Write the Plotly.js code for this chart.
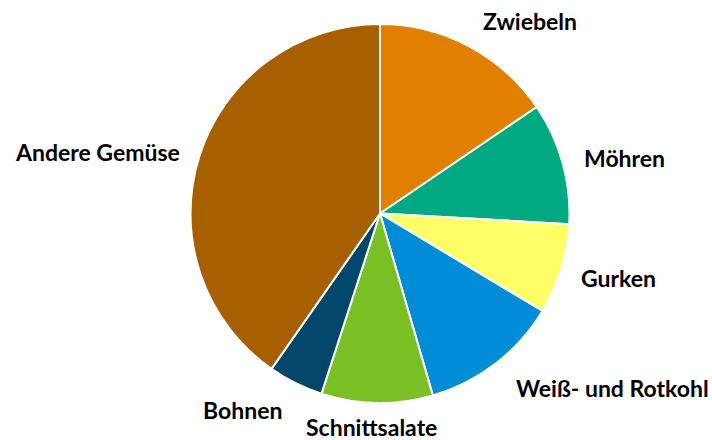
<!DOCTYPE html>
<html>
<head>
<meta charset="utf-8">
<script src="https://cdn.plot.ly/plotly-3.0.1.min.js"></script>
<style>
  html, body { margin: 0; padding: 0; background: #fff; }
  #chart { width: 712px; height: 440px; }
</style>
</head>
<body>
<div id="chart"></div>
<script>
// Anteile (%), im Uhrzeigersinn ab 12 Uhr
const categories = ['Zwiebeln', 'Möhren', 'Gurken', 'Weiß- und Rotkohl', 'Schnittsalate', 'Bohnen', 'Andere Gemüse']
const shares = [15.5, 10.4, 7.7, 11.9, 9.5, 4.7, 40.3]
const colors = ['#E07F00', '#00A982', '#FFFF66', '#008CD6', '#7ABF24', '#00476B', '#A85F00']

// Beschriftungen (Pixel-Mitte im 712x440-Bild)
const labelX = [530, 624, 618, 612, 371, 243, 97]
const labelY = [21, 158, 278, 388, 427, 410, 152]

const W = 712
const H = 440

const trace = {
    type: 'pie',
    labels: categories,
    values: shares,
    sort: false,
    direction: 'clockwise',
    rotation: 0,
    textinfo: 'none',
    hoverinfo: 'label+percent',
    marker: { colors: colors, line: { color: '#ffffff', width: 2 } },
    domain: { x: [190.5 / W, 569.5 / W], y: [1 - 403 / H, 1 - 24 / H] }
}

const annotations = categories.map(function (c, i) {
    return {
        text: '<b>' + c + '</b>',
        x: labelX[i] / W,
        y: 1 - labelY[i] / H,
        xref: 'paper',
        yref: 'paper',
        xanchor: 'center',
        yanchor: 'middle',
        showarrow: false,
        font: { family: 'Lato, sans-serif', size: 23, color: '#000000' }
    }
})

const layout = {
    width: W,
    height: H,
    margin: { l: 0, r: 0, t: 0, b: 0 },
    showlegend: false,
    paper_bgcolor: '#ffffff',
    annotations: annotations
}

Plotly.newPlot('chart', [trace], layout, { displayModeBar: false, staticPlot: true })
</script>
</body>
</html>
